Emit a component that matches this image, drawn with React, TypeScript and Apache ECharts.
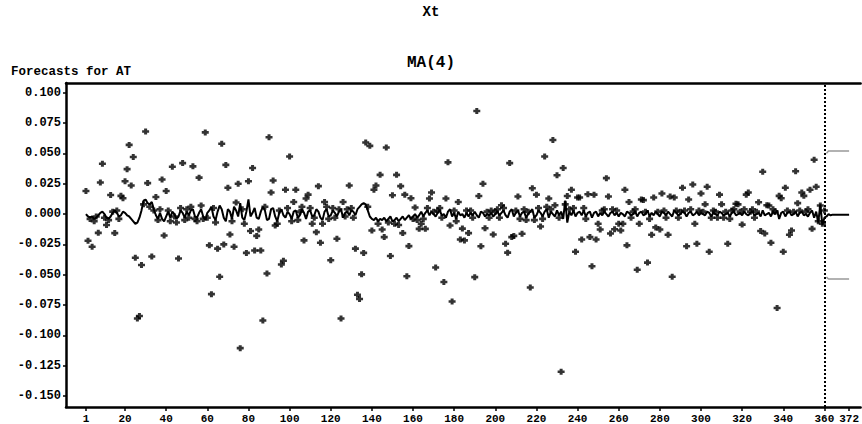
import React, { useEffect, useRef } from "react";
import * as echarts from "echarts";

const xTickValues = [1, 20, 40, 60, 80, 100, 120, 140, 160, 180, 200, 220, 240, 260, 280, 300, 320, 340, 360, 372];
const yTickValues = [-0.15, -0.125, -0.1, -0.075, -0.05, -0.025, 0, 0.025, 0.05, 0.075, 0.1];

// Actual values, t = 1..360
const actual = [
  0.019, -0.022, -0.004, -0.027, -0.006, -0.002, -0.0155, 0.026, 0.0415, -0.003, -0.009, -0.005, 0.0157, 0.002, -0.0157, 0.003, -0.004, 0.015, 0.013, 0.027,
  0.037, 0.057, 0.0236, 0.047, -0.036, -0.086, -0.084, -0.042, 0.008, 0.068, 0.0255, 0.006, -0.035, 0.003, 0.014, -0.005, 0.004, 0.0285, -0.0177, 0.019,
  0.003, -0.006, 0.039, -0.002, -0.007, -0.0366, 0.005, 0.042, -0.005, 0.004, -0.003, 0.006, 0.0393, -0.004, -0.006, 0.03, 0.007, -0.004, 0.0673, -0.003,
  -0.0258, -0.066, 0.005, -0.007, -0.0285, -0.0516, 0.058, -0.025, 0.0405, 0.0217, -0.0168, -0.006, -0.027, 0.0095, 0.025, -0.1105, 0.004, -0.008, -0.032, 0.027,
  -0.014, 0.038, -0.03, -0.018, -0.0128, -0.03, -0.0877, 0.006, -0.049, 0.0633, 0.0177, 0.0277, -0.0095, -0.008, 0.003, -0.0415, -0.0385, 0.02, 0.005, 0.0475,
  -0.006, 0.01, 0.02, -0.005, 0.002, 0.006, -0.0217, 0.0128, 0.016, 0.005, -0.008, -0.003, -0.0149, 0.023, -0.0236, -0.008, 0.01, 0.006, -0.004, -0.038,
  0.005, -0.003, -0.0204, 0.004, -0.086, 0.01, -0.002, 0.004, 0.0236, 0.005, -0.003, -0.0285, -0.0665, -0.07, -0.0497, -0.032, 0.0589, 0.006, 0.0562, -0.0136,
  0.02, 0.0236, -0.008, 0.0323, -0.0128, -0.019, 0.0548, -0.007, -0.0345, 0.0155, -0.008, 0.0323, -0.009, 0.023, -0.0157, 0.016, -0.0513, -0.0264, 0.013, -0.004,
  0.0054, -0.005, -0.0122, -0.008, -0.004, -0.0122, 0.005, 0.0128, 0.0177, 0.002, -0.044, 0.003, 0.005, -0.003, -0.056, 0.0128, 0.0426, -0.0095, -0.072, 0.003,
  -0.006, 0.01, -0.021, -0.012, -0.0217, 0.003, -0.0157, 0.003, -0.003, -0.052, 0.0849, 0.0149, -0.0266, 0.025, -0.0117, 0.002, -0.003, 0.003, -0.0168, 0.002,
  0.004, -0.003, 0.0073, 0.005, -0.0245, -0.0318, 0.042, -0.019, -0.018, 0.003, 0.0144, -0.004, -0.0163, 0.004, -0.005, 0.002, -0.0605, 0.0212, -0.005, 0.016,
  0.005, -0.0103, -0.004, 0.0475, 0.006, 0.0128, 0.004, 0.061, 0.0073, 0.032, -0.003, -0.13, 0.038, 0.008, 0.0149, 0.004, 0.02, 0.005, -0.031, 0.0136,
  0.0136, -0.021, 0.005, -0.004, 0.0163, -0.019, -0.043, 0.016, -0.021, -0.008, -0.0128, 0.003, 0.004, 0.0296, 0.0144, -0.016, 0.004, -0.0125, 0.003, -0.008,
  -0.0136, -0.008, 0.02, -0.0258, 0.01, -0.003, 0.002, 0.004, -0.0459, -0.008, 0.012, 0.0115, 0.002, -0.04, -0.004, -0.017, 0.0136, -0.011, 0.002, -0.0128,
  0.017, 0.003, -0.003, -0.017, 0.0144, -0.0516, 0.0136, 0.003, -0.003, 0.002, 0.0217, 0.003, -0.0266, 0.012, 0.004, 0.0244, -0.008, -0.0245, 0.003, 0.017,
  0.002, 0.008, 0.0225, -0.031, -0.003, 0.003, 0.002, -0.003, 0.016, 0.008, -0.003, 0.002, -0.0245, -0.004, 0.003, 0.004, 0.0085, 0.008, 0.002, -0.0087,
  0.004, 0.016, 0.0177, 0.002, 0.004, -0.003, 0.002, 0.0098, -0.014, 0.0348, -0.016, 0.0073, 0.007, -0.0236, 0.004, 0.002, -0.0774, 0.015, 0.013, -0.031,
  0.0217, 0.003, -0.017, -0.0136, 0.002, 0.0353, 0.009, 0.003, 0.0177, 0.015, 0.002, 0.004, 0.02, -0.0122, 0.0448, 0.0225, -0.006, 0.007, -0.008, 0.003,
];

// One-step-ahead forecasts t = 1..360, then forecasts t = 361..372
const forecast = [
  0.0, -0.002, -0.003, -0.002, -0.004, -0.003, -0.001, 0.001, 0.002, 0.0, -0.003, -0.004, -0.002, 0.001, 0.003, 0.001, -0.002, -0.001, 0.002, 0.001,
  -0.001, -0.002, -0.004, -0.006, -0.008, -0.007, -0.003, 0.003, 0.011, 0.012, 0.009, 0.008, 0.01, 0.004, -0.001, -0.004, 0.001, -0.004, -0.006, -0.002,
  0.002, -0.003, 0.002, 0.0, -0.004, -0.002, 0.003, 0.001, -0.003, 0.002, -0.001, 0.003, 0.004, -0.002, -0.003, 0.001, 0.004, -0.002, -0.005, 0.001,
  0.003, 0.006, -0.002, -0.005, 0.002, 0.007, 0.004, -0.003, -0.006, 0.004, 0.002, -0.004, 0.006, 0.003, -0.002, 0.009, -0.003, -0.005, 0.002, 0.012,
  -0.002, 0.001, 0.005, -0.003, -0.004, 0.002, 0.006, 0.003, -0.005, -0.004, 0.004, 0.005, -0.002, -0.006, 0.001, 0.004, -0.001, -0.003, 0.002, 0.0,
  -0.004, 0.002, 0.003, -0.003, -0.001, 0.004, 0.001, -0.004, 0.002, 0.003, -0.002, -0.001, 0.004, 0.002, -0.003, -0.005, 0.002, 0.004, -0.002, -0.001,
  0.003, 0.001, -0.002, 0.002, 0.004, -0.003, 0.001, 0.002, -0.001, 0.003, 0.002, -0.001, 0.004, 0.006, 0.008, 0.009, 0.008, 0.003, -0.002, -0.004,
  -0.005, -0.003, -0.006, -0.004, -0.005, -0.003, -0.006, -0.004, -0.002, -0.006, -0.005, -0.003, -0.006, -0.004, -0.002, -0.005, -0.003, -0.001, -0.004, -0.002,
  0.0, -0.003, -0.001, 0.002, -0.002, 0.001, 0.003, -0.001, 0.002, 0.0, -0.002, 0.001, 0.003, -0.001, 0.0, -0.003, 0.002, 0.004, -0.002, 0.001,
  -0.004, 0.002, -0.001, 0.0, -0.003, 0.001, -0.002, 0.001, -0.001, 0.002, -0.001, -0.003, 0.002, 0.001, -0.002, 0.0, -0.001, 0.001, -0.002, 0.0,
  0.002, -0.001, 0.001, 0.003, -0.001, -0.003, 0.002, 0.004, -0.002, 0.001, 0.003, -0.002, 0.001, 0.002, -0.003, 0.0, 0.002, 0.004, -0.003, -0.001,
  0.003, 0.001, -0.002, 0.002, 0.004, -0.003, 0.002, 0.0, -0.002, 0.003, -0.001, 0.002, -0.004, 0.011, -0.007, 0.002, -0.001, 0.003, -0.002, 0.001,
  0.002, -0.001, 0.003, -0.002, 0.001, 0.002, -0.003, 0.001, 0.002, -0.002, 0.001, -0.001, 0.002, 0.0, -0.002, 0.001, 0.002, -0.001, 0.001, -0.002,
  0.001, 0.0, -0.002, 0.002, 0.001, -0.001, 0.0, 0.002, -0.002, 0.001, 0.002, -0.001, 0.0, 0.003, -0.002, 0.001, -0.001, 0.002, 0.0, -0.002,
  0.002, 0.001, -0.001, 0.002, 0.0, -0.002, 0.003, 0.001, -0.001, 0.0, 0.002, 0.001, -0.002, 0.001, 0.002, -0.001, 0.0, 0.002, -0.001, 0.001,
  0.0, -0.001, 0.002, 0.001, -0.002, 0.001, 0.0, -0.001, 0.002, 0.001, -0.001, 0.0, 0.001, -0.002, 0.001, 0.002, -0.001, 0.0, 0.001, -0.001,
  0.002, 0.0, -0.001, 0.001, 0.002, -0.001, 0.0, 0.001, -0.002, 0.003, -0.001, 0.0, 0.001, -0.002, 0.002, 0.0, 0.003, -0.004, 0.001, 0.002,
  -0.002, 0.001, 0.002, -0.001, 0.0, 0.002, -0.002, 0.001, 0.002, -0.001, 0.0, -0.002, 0.001, 0.003, -0.003, 0.002, -0.007, 0.008, -0.009, -0.003,
  -0.002, 0.0, -0.001, -0.0005, -0.0005, -0.0005, -0.0005, -0.0005, -0.0005, -0.0005, -0.0005, -0.0005,
];

// 95% confidence limits for t = 361..372
const limitStart = 361;
const upper95 = [0.05, 0.052, 0.052, 0.052, 0.052, 0.052, 0.052, 0.052, 0.052, 0.052, 0.052, 0.052];
const lower95 = [-0.052, -0.0535, -0.0535, -0.0535, -0.0535, -0.0535, -0.0535, -0.0535, -0.0535, -0.0535, -0.0535, -0.0535];
const lastObserved = 360;

const monoFont = "'Liberation Mono', 'DejaVu Sans Mono', monospace";

export default function App() {
  const ref = useRef<HTMLDivElement>(null);
  useEffect(() => {
    if (!ref.current) return;
    const chart = echarts.init(ref.current, null, { renderer: "svg" });
    const xMin = -8.7;
    const xMax = 377.6;
    const axisLbl = { fontFamily: monoFont, fontWeight: "bold", color: "#000" };
    chart.setOption({
      animation: false,
      backgroundColor: "#ffffff",
      title: [
        { text: "Xt", left: "center", top: 5, padding: 0, textStyle: { fontFamily: monoFont, fontWeight: "bold", fontSize: 14, color: "#000" } },
        { text: "MA(4)", left: "center", top: 55, padding: 0, textStyle: { fontFamily: monoFont, fontWeight: "bold", fontSize: 16, color: "#000" } },
        { text: "Forecasts for AT", left: 11, top: 65, padding: 0, textStyle: { fontFamily: monoFont, fontWeight: "bold", fontSize: 12.5, color: "#000" } },
      ],
      grid: { left: 66, right: 0, top: 83, bottom: 14, containLabel: false },
      xAxis: [
        {
          type: "value",
          min: xMin,
          max: xMax,
          axisLine: { show: true, onZero: false, lineStyle: { color: "#000", width: 2.5 } },
          axisTick: { show: true, customValues: xTickValues, length: 4, lineStyle: { color: "#000", width: 1.5 } },
          axisLabel: { show: true, customValues: xTickValues, margin: 6, fontSize: 11, ...axisLbl },
          splitLine: { show: false },
        },
        {
          type: "value",
          position: "top",
          min: xMin,
          max: xMax,
          axisLine: { show: true, onZero: false, lineStyle: { color: "#000", width: 2.5 } },
          axisTick: { show: false },
          axisLabel: { show: false },
          splitLine: { show: false },
        },
      ],
      yAxis: {
        type: "value",
        min: -0.159,
        max: 0.108,
        axisLine: { show: true, onZero: false, lineStyle: { color: "#000", width: 2.5 } },
        axisTick: { show: true, customValues: yTickValues, length: 3, lineStyle: { color: "#000", width: 1.5 } },
        axisLabel: { show: true, customValues: yTickValues, margin: 5, fontSize: 12, formatter: (v: number) => v.toFixed(3), ...axisLbl },
        splitLine: { show: false },
      },
      series: [
        {
          name: "Forecast",
          type: "line",
          data: forecast.map((v, i) => [i + 1, v]),
          showSymbol: false,
          lineStyle: { color: "#000", width: 2 },
          z: 3,
          markLine: {
            silent: true,
            symbol: "none",
            label: { show: false },
            lineStyle: { color: "#000", type: [2, 2], width: 2 },
            data: [{ xAxis: lastObserved }],
          },
        },
        {
          name: "U95",
          type: "line",
          data: upper95.map((v, i) => [limitStart + i, v]),
          showSymbol: false,
          lineStyle: { color: "#999", width: 1.5 },
        },
        {
          name: "L95",
          type: "line",
          data: lower95.map((v, i) => [limitStart + i, v]),
          showSymbol: false,
          lineStyle: { color: "#999", width: 1.5 },
        },
        {
          name: "Actual",
          type: "scatter",
          data: actual.map((v, i) => [i + 1, v]),
          symbol: "path://M2,0H5V2H7V5H5V7H2V5H0V2H2Z",
          symbolSize: [7, 6],
          itemStyle: { color: "#000" },
          z: 4,
        },
      ],
    });
    return () => chart.dispose();
  }, []);
  return <div ref={ref} style={{ width: 862, height: 424, position: "absolute", left: 0, top: 0 }} />;
}
